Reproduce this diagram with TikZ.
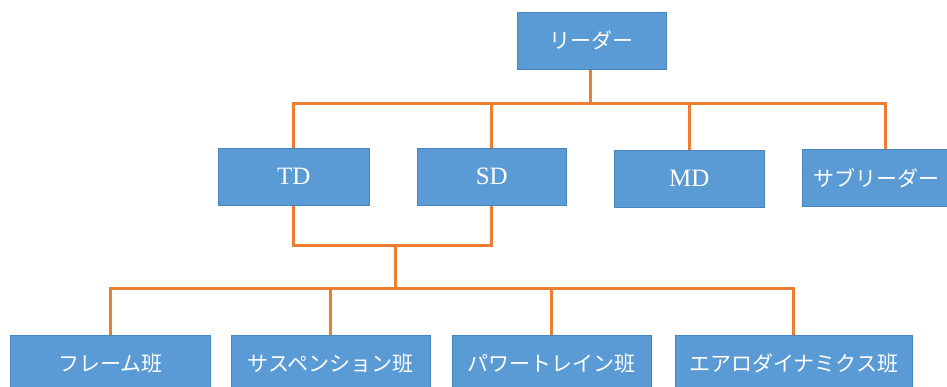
\documentclass[tikz,border=0pt]{standalone}
\usepackage{fontspec}
\setmainfont{Liberation Serif}
\newfontfamily\jp{Noto Sans CJK JP}
\definecolor{boxblue}{HTML}{5B9BD5}
\definecolor{boxedge}{HTML}{4A86BE}
\definecolor{linkorange}{HTML}{ED7D31}
\tikzset{
  orgbox/.style={draw=boxedge, line width=0.6pt, fill=boxblue, text=white, anchor=north west, inner sep=0pt, font=\fontsize{21}{21}\selectfont},
  link/.style={draw=linkorange, line width=3pt}
}
\begin{document}
\begin{tikzpicture}[x=1pt,y=-1pt]
\useasboundingbox (0,0) rectangle (947,387);
\begin{scope}
\clip (0,0) rectangle (947,387);
% nodes
\node[orgbox, minimum width=149pt, minimum height=57pt] (leader) at (517,12) {\jp リーダー};
\node[orgbox, minimum width=151pt, minimum height=57pt] (td) at (218,148) {\fontsize{25}{25}\selectfont TD};
\node[orgbox, minimum width=149pt, minimum height=57pt] (sd) at (417,148) {\fontsize{25}{25}\selectfont SD};
\node[orgbox, minimum width=150pt, minimum height=57pt] (md) at (614,150) {\fontsize{25}{25}\selectfont MD};
\node[orgbox, minimum width=166pt, minimum height=57pt] (sub) at (802,149) {\jp\hspace*{-18pt}サブリーダー};
\node[orgbox, minimum width=200pt, minimum height=57pt] (frame) at (10,335) {\jp フレーム班};
\node[orgbox, minimum width=199pt, minimum height=57pt] (susp) at (231,335) {\jp サスペンション班};
\node[orgbox, minimum width=199pt, minimum height=57pt] (pt) at (452,335) {\jp パワートレイン班};
\node[orgbox, minimum width=237pt, minimum height=57pt] (aero) at (675,335) {\jp エアロダイナミクス班};
% junction coordinates
\coordinate (j1) at (590,104);
\coordinate (j2) at (395,246);
\coordinate (j3) at (395,288);
% upper tree
\draw[link] (leader.south -| j1) -- (j1);
\draw[link] (td.north) |- (j1);
\draw[link] (sd.north) -- (sd.north |- j1);
\draw[link] (md.north) -- (md.north |- j1);
\draw[link] (885,149) |- (j1);
% lower tree
\draw[link] (td.south) |- (j2) -| (sd.south);
\draw[link] (j2) -- (j3);
\draw[link] (frame.north) |- (j3);
\draw[link] (susp.north) -- (susp.north |- j3);
\draw[link] (pt.north) -- (pt.north |- j3);
\draw[link] (aero.north) |- (j3);
\end{scope}
\end{tikzpicture}
\end{document}
